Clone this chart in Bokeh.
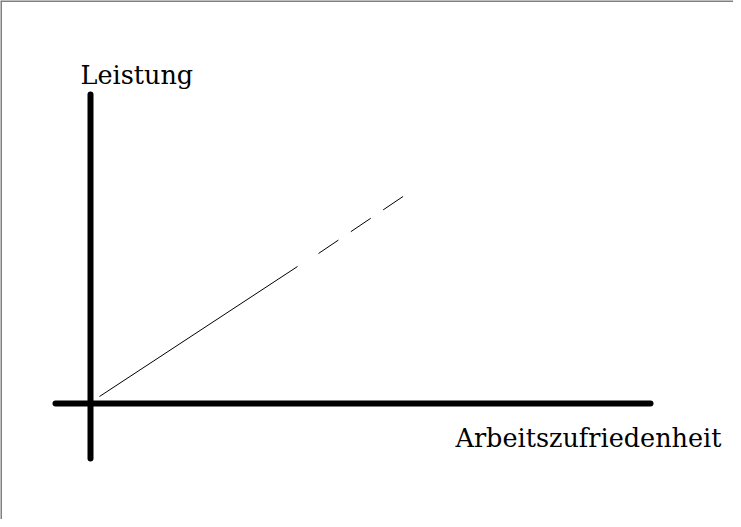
from bokeh.plotting import figure
from bokeh.models import Range1d, Span, ColumnDataSource
from bokeh.core.properties import value
from bokeh.embed import file_html
from bokeh.resources import INLINE

# Schematic coordinates (origin of the sketch at the axis crossing)
axis_x0 = [-35, 0]
axis_y0 = [0, -55]
axis_x1 = [560, 0]
axis_y1 = [0, 309]

trend_x = [9, 207]
trend_y = [7, 137]

dash_x = [228, 314]
dash_y = [150, 208]

label_text = ["Leistung", "Arbeitszufriedenheit"]
label_x = [-10, 365]
label_y = [329, -34]

p = figure(width=733, height=519, output_backend="svg", toolbar_location=None,
           x_range=Range1d(-90, 643), y_range=Range1d(-116, 403),
           min_border=0, min_border_left=0, min_border_right=0,
           min_border_top=0, min_border_bottom=0)
p.axis.visible = False
p.grid.visible = False
p.outline_line_color = None
p.background_fill_color = "white"
p.border_fill_color = "white"

# frame border (top and left visible in the reference)
p.add_layout(Span(location=p.y_range.end, dimension="width", line_color="#808080", line_width=3))
p.add_layout(Span(location=p.x_range.start, dimension="height", line_color="#808080", line_width=3))

p.segment(x0=axis_x0, y0=axis_y0, x1=axis_x1, y1=axis_y1,
          line_color="black", line_width=6, line_cap="round")

p.line(trend_x, trend_y, line_color="black", line_width=1)
p.line(dash_x, dash_y, line_color="black", line_width=1, line_dash="24 15")

src = ColumnDataSource(dict(x=label_x, y=label_y, t=label_text))
p.text(x="x", y="y", text="t", source=src, text_font=value("DejaVu Serif"),
       text_font_size="25.5px", text_color="black", text_baseline="alphabetic",
       text_align="left")

open("out.html", "w").write(file_html(p, INLINE))
